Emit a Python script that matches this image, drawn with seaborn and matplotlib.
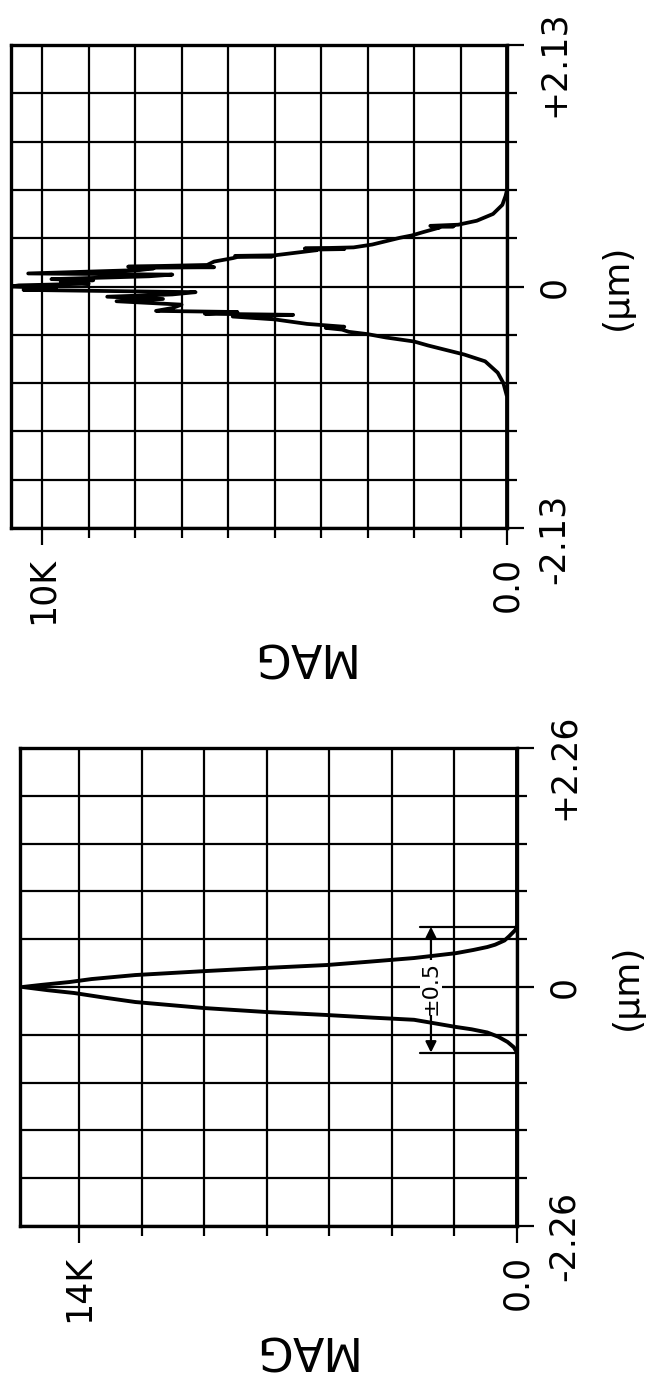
import numpy as np
import matplotlib
matplotlib.use("Agg")
import matplotlib.pyplot as plt
import seaborn as sns
import pandas as pd

sns.set_style("white")
plt.rcParams["font.family"] = ["DejaVu Sans"]
plt.rcParams["text.color"] = "black"
plt.rcParams["xtick.color"] = "black"
plt.rcParams["ytick.color"] = "black"
plt.rcParams["xtick.labelcolor"] = "black"
plt.rcParams["ytick.labelcolor"] = "black"
plt.rcParams["axes.edgecolor"] = "black"

# ---------------- data ----------------
# top panel (noisy profile), position in um and magnitude in K
top_pos_um = [2.13, 0.85, 0.80, 0.72, 0.64, 0.58, 0.545, 0.535, 0.53, 0.525,
              0.52, 0.48, 0.45, 0.43, 0.40, 0.37, 0.345, 0.335, 0.33, 0.325,
              0.32, 0.30, 0.275, 0.27, 0.265, 0.26, 0.25, 0.22, 0.19, 0.175,
              0.17, 0.165, 0.16, 0.145, 0.115, 0.105, 0.09, 0.065, 0.055, 0.045,
              0.025, 0.01, 0.0, -0.015, -0.03, -0.05, -0.07, -0.09, -0.11, -0.13,
              -0.16, -0.19, -0.215, -0.225, -0.24, -0.25, -0.265, -0.29, -0.33, -0.355,
              -0.365, -0.38, -0.40, -0.42, -0.45, -0.485, -0.52, -0.556, -0.60, -0.66,
              -0.76, -0.85, -0.97, -2.13]
top_mag_k = [0.0, 0.0, 0.03, 0.10, 0.30, 0.65, 1.05, 1.65, 1.15, 1.60,
             1.45, 1.80, 2.05, 2.30, 2.60, 2.90, 3.30, 4.35, 3.50, 4.25,
             4.10, 4.50, 5.00, 5.85, 5.05, 5.80, 5.90, 6.30, 6.45, 8.15,
             6.30, 8.05, 7.60, 7.90, 10.30, 7.20, 7.70, 9.80, 8.90, 9.60,
             9.00, 10.50, 10.67, 9.70, 10.40, 6.70, 7.20, 8.60, 7.40, 8.40,
             7.00, 7.20, 7.55, 5.80, 6.50, 4.60, 5.90, 5.00, 4.30, 3.50,
             3.90, 3.55, 3.40, 3.00, 2.60, 2.00, 1.70, 1.35, 0.92, 0.47,
             0.20, 0.08, 0.0, 0.0]

# bottom panel (smooth profile)
bot_pos_um = [2.26, 0.58, 0.54, 0.48, 0.44, 0.40, 0.378, 0.35, 0.32, 0.274,
              0.24, 0.208, 0.18, 0.15, 0.113, 0.075, 0.047, 0.02, 0.0, -0.03,
              -0.057, -0.10, -0.142, -0.199, -0.236, -0.265, -0.29, -0.31, -0.35, -0.378,
              -0.40, -0.43, -0.47, -0.52, -0.57, -0.62, -2.26]
bot_mag_k = [0.0, 0.0, 0.05, 0.25, 0.40, 0.70, 0.95, 1.40, 1.95, 3.29,
             4.70, 6.07, 8.05, 10.0, 12.2, 13.6, 14.3, 15.2, 15.8, 15.0,
             14.15, 13.2, 12.2, 10.0, 8.05, 6.07, 4.6, 3.29, 2.5, 1.95,
             1.45, 0.95, 0.60, 0.30, 0.10, 0.0, 0.0]

top_span = 2.13
bot_span = 2.26
top_mag_max = 10.67
bot_mag_max = 15.885
top_mag_major = [10, 0]
top_mag_labels = ["10K", "0.0"]
top_mag_minor = [1, 2, 3, 4, 5, 6, 7, 8, 9]
bot_mag_major = [14, 0]
bot_mag_labels = ["14K", "0.0"]
bot_mag_minor = [2, 4, 6, 8, 10, 12]
top_pos_labels = ["-2.13", "0", "+2.13"]
bot_pos_labels = ["-2.26", "0", "+2.26"]

# dimension marker in bottom panel
dim_pos = [0.57, -0.62]
dim_mag_extent = 3.1
dim_arrow_mag = 2.75
dim_text = "±0.5"

# ---------------- figure ----------------
W, H = 647, 1375
fig = plt.figure(figsize=(W / 100, H / 100), dpi=100)
ax1 = fig.add_axes([11 / W, 1 - 528 / H, 496 / W, 483 / H])
ax2 = fig.add_axes([20 / W, 1 - 1226 / H, 497 / W, 478 / H])

GRID_LW = 1.6
SPINE_LW = 2.4


def style(ax, span, mag_max, mag_major, mag_labels, mag_minor, pos_labels, ylabel_xy):
    ax.set_xlim(mag_max, 0)
    ax.set_ylim(-span, span)
    ax.set_xticks(mag_major)
    ax.set_xticklabels(mag_labels, rotation=90, fontsize=25, color="black")
    ax.set_xticks(mag_minor, minor=True)
    yt = np.linspace(-span, span, 11)
    ax.yaxis.tick_right()
    ax.set_yticks([-span, 0, span])
    ax.set_yticklabels([])
    ax.set_yticks([v for v in yt[1:-1] if abs(v) > 1e-9], minor=True)
    ax.tick_params(axis="both", which="both", direction="out", color="black",
                   width=GRID_LW, bottom=True, right=True, left=False, top=False,
                   labelbottom=True, labelright=False, labelleft=False)
    ax.tick_params(axis="both", which="major", length=12)
    ax.tick_params(axis="both", which="minor", length=7.5)
    ax.tick_params(axis="x", which="major", pad=9)
    ax.grid(True, which="both", color="black", lw=GRID_LW)
    ax.set_axisbelow(True)
    for sp in ax.spines.values():
        sp.set_linewidth(SPINE_LW)
        sp.set_color("black")
        sp.set_visible(True)
    ax.set_xlabel("")
    ax.set_ylabel("")
    for val, lab in zip([-span, 0, span], pos_labels):
        if lab == "0":
            ax.annotate(lab, xy=(1, val), xycoords=("axes fraction", "data"),
                        xytext=(34, 0), textcoords="offset points", rotation=90,
                        ha="center", va="center", fontsize=25, color="black")
        else:
            ax.annotate(lab, xy=(1, val), xycoords=("axes fraction", "data"),
                        xytext=(34, 25), textcoords="offset points", rotation=90,
                        ha="center", va="top", fontsize=25, color="black")
    ax.annotate("(μm)", xy=(1, 0), xycoords=("axes fraction", "data"),
                xytext=(79, 0), textcoords="offset points", rotation=90,
                ha="center", va="center", fontsize=26, color="black")
    ax.text(ylabel_xy[0], ylabel_xy[1], "MAG", transform=ax.transAxes,
            rotation=180, ha="center", va="center", fontsize=33, color="black")


df_top = pd.DataFrame({"mag": top_mag_k, "pos": top_pos_um})
df_bot = pd.DataFrame({"mag": bot_mag_k, "pos": bot_pos_um})

sns.lineplot(data=df_top, x="mag", y="pos", sort=False, estimator=None,
             color="black", lw=2.7, ax=ax1, zorder=3)
sns.lineplot(data=df_bot, x="mag", y="pos", sort=False, estimator=None,
             color="black", lw=2.8, ax=ax2, zorder=3)

style(ax1, top_span, top_mag_max, top_mag_major, top_mag_labels, top_mag_minor,
      top_pos_labels, ((300 - 11) / 496, (528 - 655) / 483))
style(ax2, bot_span, bot_mag_max, bot_mag_major, bot_mag_labels, bot_mag_minor,
      bot_pos_labels, ((302 - 20) / 497, (1226 - 1348) / 478))

# dimension marker
for p in dim_pos:
    ax2.plot([0, dim_mag_extent], [p, p], color="black", lw=GRID_LW, zorder=4)
mid = 0.5 * (dim_pos[0] + dim_pos[1])
for p in dim_pos:
    ax2.annotate("", xy=(dim_arrow_mag, p), xytext=(dim_arrow_mag, mid),
                 arrowprops=dict(arrowstyle="-|>", color="black", lw=GRID_LW,
                                 mutation_scale=16, shrinkA=0, shrinkB=0),
                 zorder=4)
ax2.text(dim_arrow_mag, mid + 0.02, dim_text, rotation=90, ha="center", va="center",
         fontsize=16, zorder=5, color="black",
         bbox=dict(facecolor="white", edgecolor="none", pad=0.6))

fig.savefig("out.png", dpi=100)
